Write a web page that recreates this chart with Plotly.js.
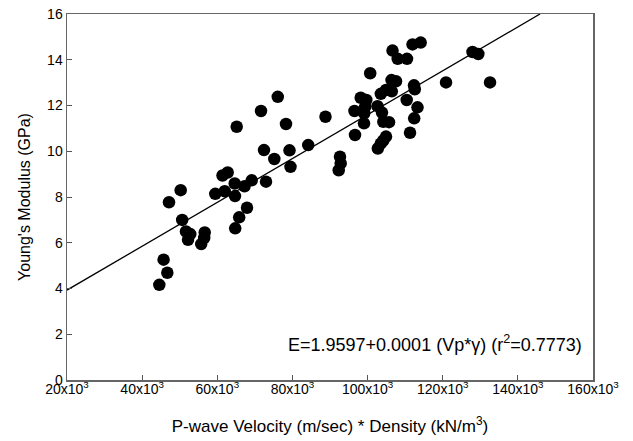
<!DOCTYPE html>
<html>
<head>
<meta charset="utf-8">
<script src="https://cdn.plot.ly/plotly-3.0.1.min.js"></script>
<style>html,body{margin:0;padding:0;background:#fff;}#chart{width:633px;height:441px;}</style>
</head>
<body>
<div id="chart"></div>
<script>
const vpDensity = [76100,71640,78290,65170,88800,96520,98170,96660,72430,79220,75180,79490,84200,92660,92850,92320,72970,69160,67250,64640,61390,62770,59470,61980,64720,50260,47150,50660,51670,52820,52210,56650,56520,55720,65830,64770,67910,45710,46700,44570,114140,111960,106640,108020,110500,127930,129480,100700,106370,107570,120880,132590,112360,112570,104910,106450,103520,99670,110420,99370,99110,102650,103840,113290,112410,99050,104190,105710,111300,104910,104190,103500,102730];
const youngsModulus = [12.38,11.76,11.19,11.07,11.51,11.76,12.34,10.71,10.05,10.04,9.66,9.32,10.27,9.76,9.47,9.17,8.67,8.73,8.47,8.59,8.94,9.07,8.14,8.25,8.04,8.30,7.77,7.00,6.49,6.38,6.13,6.45,6.21,5.94,7.11,6.63,7.53,5.26,4.69,4.16,14.75,14.67,14.40,14.04,14.04,14.34,14.25,13.41,13.11,13.06,13.01,13.01,12.88,12.71,12.68,12.62,12.51,12.24,12.24,11.94,11.66,11.97,11.69,11.92,11.44,11.22,11.29,11.27,10.81,10.64,10.47,10.33,10.12];
const fitX = [20000, 145900];
const fitY = [3.93, 16];
const xTickVals = [20000,40000,60000,80000,100000,120000,140000,160000];
const xTickText = ["20x10<sup>3</sup>","40x10<sup>3</sup>","60x10<sup>3</sup>","80x10<sup>3</sup>","100x10<sup>3</sup>","120x10<sup>3</sup>","140x10<sup>3</sup>","160x10<sup>3</sup>"];
const yTickVals = [0,2,4,6,8,10,12,14,16];

const font = {family: 'Arial, "Liberation Sans", sans-serif', color: '#000'};

Plotly.newPlot('chart', [
  {x: fitX, y: fitY, mode: 'lines', line: {color: '#000', width: 1.3}, hoverinfo: 'skip'},
  {x: vpDensity, y: youngsModulus, mode: 'markers', marker: {color: '#000', size: 12.5}}
], {
  width: 633, height: 441,
  margin: {l: 67, r: 40, t: 14, b: 61},
  showlegend: false,
  paper_bgcolor: '#fff', plot_bgcolor: '#fff',
  font: Object.assign({size: 14}, font),
  xaxis: {
    range: [20000, 160000], tickvals: xTickVals, ticktext: xTickText,
    ticks: 'inside', ticklen: 5, tickcolor: '#555', showgrid: false, zeroline: false,
    showline: true, linecolor: '#666', linewidth: 1.5, mirror: true,
    tickfont: Object.assign({size: 14}, font), ticklabelstandoff: -4,
    title: {text: 'P-wave Velocity (m/sec) * Density (kN/m<sup>3</sup>)', font: Object.assign({size: 17}, font), standoff: 24}
  },
  yaxis: {
    range: [0, 16], tickvals: yTickVals,
    ticks: 'inside', ticklen: 5, tickcolor: '#555', showgrid: false, zeroline: false,
    showline: true, linecolor: '#666', linewidth: 1.5, mirror: true,
    tickfont: Object.assign({size: 14}, font),
    title: {text: "Young's Modulus (GPa)", font: Object.assign({size: 16}, font), standoff: 12}
  },
  annotations: [{
    xref: 'paper', yref: 'paper', x: 0.982, y: 0.101, xanchor: 'right', yanchor: 'middle',
    showarrow: false, text: 'E=1.9597+0.0001 (Vp*γ) (r<sup>2</sup>=0.7773)',
    font: Object.assign({size: 18}, font)
  }]
}, {displayModeBar: false, staticPlot: true});
</script>
</body>
</html>
